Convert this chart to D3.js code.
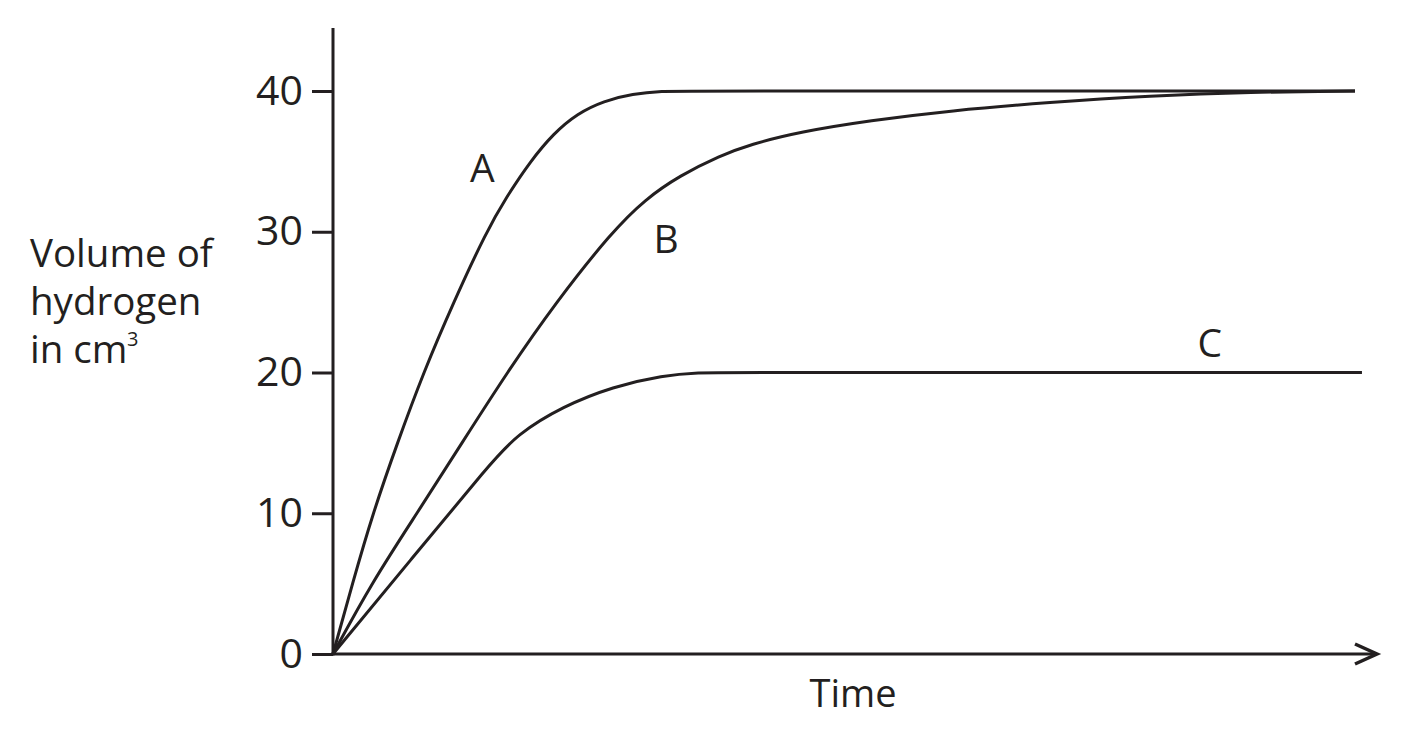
<!DOCTYPE html>
<html>
<head>
<meta charset="utf-8">
<script src="https://cdn.jsdelivr.net/npm/d3@7"></script>
<style>
  body { margin: 0; background: #fff; }
  svg text { font-family: "Open Sans", "Noto Sans", sans-serif; fill: #231f20; }
</style>
</head>
<body>
<div id="chart"></div>
<script>
// time is in arbitrary units (the x axis has no scale)
var yTicks = [0, 10, 20, 30, 40];

var timeA = [0, 1.9, 3.9, 6.3, 8.85, 11.8, 15.0, 17.0, 19.3, 21.6, 23.9, 26.5, 29.3, 32.3, 34.5, 100];
var volA  = [0, 5, 10, 15, 20, 25, 30, 32.5, 35, 37.0, 38.4, 39.3, 39.8, 40, 40, 40];

var timeB = [0, 3.82, 8.22, 12.62, 17.03, 21.82, 27.30, 30.53, 33.95, 37.87, 40.80, 45.69, 52.54, 60.37, 70.16, 79.94, 89.73, 100];
var volB  = [0, 5.1, 10, 15, 20, 25, 30, 32.3, 34.0, 35.4, 36.2, 37.1, 37.9, 38.6, 39.2, 39.65, 39.92, 40];

var timeC = [0, 7.73, 15.36, 18.0, 22.5, 27.4, 32.29, 35.91, 38.5, 100.68];
var volC  = [0, 6.8, 13.5, 15.6, 17.6, 19.0, 19.8, 20, 20, 20];

var curveLabels = [
    { name: "A", t: 14.6, v: 33.5 },
    { name: "B", t: 32.6, v: 28.5 },
    { name: "C", t: 85.8, v: 21.1 }
];

var yTitleLines = ["Volume of", "hydrogen", "in cm"];

(function () {
    "use strict";

    var width = 1410, height = 736;
    var ink = "#231f20";

    var svg = d3.select("#chart").append("svg")
        .attr("width", width)
        .attr("height", height);

    var x = d3.scaleLinear().domain([0, 100]).range([333, 1355]);
    var y = d3.scaleLinear().domain([0, 40]).range([654, 91]);

    function series(ts, vs) {
        return ts.map(function (t, i) { return { t: t, v: vs[i] }; });
    }

    // first and last points are repeated so the basis spline starts/ends on them
    function clamp(s) {
        return [s[0]].concat(s, [s[s.length - 1]]);
    }

    var line = d3.line()
        .x(function (d) { return x(d.t); })
        .y(function (d) { return y(d.v); })
        .curve(d3.curveBasis);

    // y axis
    var yAxis = svg.append("g")
        .attr("transform", "translate(" + x(0) + ",0)")
        .call(d3.axisLeft(y).tickValues(yTicks).tickSize(21).tickPadding(9));
    yAxis.select(".domain").remove();
    yAxis.selectAll(".tick line").attr("stroke", ink).attr("stroke-width", 3);
    yAxis.selectAll(".tick text")
        .attr("font-size", 41)
        .attr("font-family", "'Open Sans', sans-serif")
        .attr("fill", ink);

    svg.append("line")
        .attr("x1", x(0)).attr("x2", x(0))
        .attr("y1", y(0) + 1.5).attr("y2", 28)
        .attr("stroke", ink).attr("stroke-width", 3);

    // x axis with open arrow
    var xEnd = 1377;
    svg.append("line")
        .attr("x1", x(0) - 1.5).attr("x2", xEnd)
        .attr("y1", y(0)).attr("y2", y(0))
        .attr("stroke", ink).attr("stroke-width", 3);
    svg.append("path")
        .attr("d", "M" + (xEnd - 22) + "," + (y(0) - 10) + "L" + xEnd + "," + y(0) + "L" + (xEnd - 22) + "," + (y(0) + 10))
        .attr("fill", "none")
        .attr("stroke", ink).attr("stroke-width", 3.5)
        .attr("stroke-linejoin", "miter");

    // curves
    [series(timeA, volA), series(timeB, volB), series(timeC, volC)].forEach(function (s) {
        svg.append("path")
            .datum(clamp(s))
            .attr("d", line)
            .attr("fill", "none")
            .attr("stroke", ink)
            .attr("stroke-width", 3);
    });

    // curve labels
    svg.selectAll(".curve-label")
        .data(curveLabels)
        .enter().append("text")
        .attr("class", "curve-label")
        .attr("x", function (d) { return x(d.t); })
        .attr("y", function (d) { return y(d.v); })
        .attr("text-anchor", "middle")
        .attr("font-size", 39)
        .text(function (d) { return d.name; });

    // axis titles
    svg.append("text")
        .attr("x", 853)
        .attr("y", 707)
        .attr("text-anchor", "middle")
        .attr("font-size", 38)
        .text("Time");

    svg.selectAll(".y-title")
        .data(yTitleLines)
        .enter().append("text")
        .attr("class", "y-title")
        .attr("x", 30)
        .attr("y", function (d, i) { return 267 + i * 48; })
        .attr("font-size", 38.5)
        .text(function (d) { return d; });

    svg.append("text")
        .attr("x", 127)
        .attr("y", 346)
        .attr("font-size", 20)
        .text("3");
})();
</script>
</body>
</html>
